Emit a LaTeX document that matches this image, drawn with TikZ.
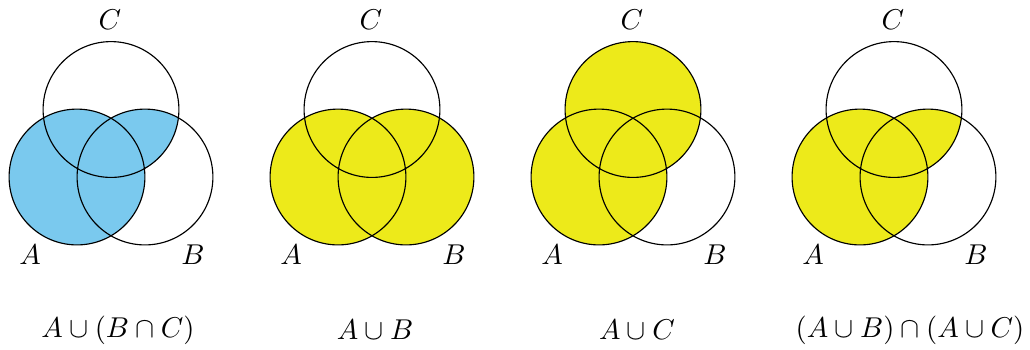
\documentclass[tikz,border=0pt]{standalone}
\definecolor{venblue}{RGB}{122,201,238}
\definecolor{venyellow}{RGB}{237,234,26}
\tikzset{
  setlabel/.style={inner sep=1pt},
  setformula/.style={inner sep=1pt}
}
\newcommand{\rad}{23.7pt}
\begin{document}
\begin{tikzpicture}[x=0.349pt,y=-0.349pt]
            \useasboundingbox (0,0) rectangle (1030,349);
            % A \cup (B \cap C)
            \begin{scope}
                \coordinate (a1) at (77,177);
                \coordinate (b1) at (145,177);
                \coordinate (c1) at (111,109.5);
                \fill[venblue] (a1) circle (\rad);
                \begin{scope}
                    \clip (b1) circle (\rad);
                    \fill[venblue] (c1) circle (\rad);
                \end{scope}
                \draw (a1) circle (\rad);
                \draw (b1) circle (\rad);
                \draw (c1) circle (\rad);
                \node[setlabel] (A1) at (30,255) {$A$};
                \node[setlabel] (B1) at (193,255) {$B$};
                \node[setlabel] (C1) at (110,20) {$C$};
                \node[setformula] (f1) at (118,330) {$A\cup(B\cap C)$};
            \end{scope}
            % A \cup B
            \begin{scope}[shift={(261,0)}]
                \coordinate (a2) at (77,177);
                \coordinate (b2) at (145,177);
                \coordinate (c2) at (111,109.5);
                \fill[venyellow] (a2) circle (\rad);
                \fill[venyellow] (b2) circle (\rad);
                \draw (a2) circle (\rad);
                \draw (b2) circle (\rad);
                \draw (c2) circle (\rad);
                \node[setlabel] (A2) at (30,255) {$A$};
                \node[setlabel] (B2) at (193,255) {$B$};
                \node[setlabel] (C2) at (110,20) {$C$};
                \node[setformula] (f2) at (114,330) {$A\cup B$};
            \end{scope}
            % A \cup C
            \begin{scope}[shift={(522,0)}]
                \coordinate (a3) at (77,177);
                \coordinate (b3) at (145,177);
                \coordinate (c3) at (111,109.5);
                \fill[venyellow] (a3) circle (\rad);
                \fill[venyellow] (c3) circle (\rad);
                \draw (a3) circle (\rad);
                \draw (b3) circle (\rad);
                \draw (c3) circle (\rad);
                \node[setlabel] (A3) at (30,255) {$A$};
                \node[setlabel] (B3) at (193,255) {$B$};
                \node[setlabel] (C3) at (110,20) {$C$};
                \node[setformula] (f3) at (115,330) {$A\cup C$};
            \end{scope}
            % (A \cup B) \cap (A \cup C)
            \begin{scope}[shift={(783,0)}]
                \coordinate (a4) at (77,177);
                \coordinate (b4) at (145,177);
                \coordinate (c4) at (111,109.5);
                \fill[venyellow] (a4) circle (\rad);
                \begin{scope}
                    \clip (b4) circle (\rad);
                    \fill[venyellow] (c4) circle (\rad);
                \end{scope}
                \draw (a4) circle (\rad);
                \draw (b4) circle (\rad);
                \draw (c4) circle (\rad);
                \node[setlabel] (A4) at (30,255) {$A$};
                \node[setlabel] (B4) at (193,255) {$B$};
                \node[setlabel] (C4) at (110,20) {$C$};
                \node[setformula] (f4) at (127,330) {$(A\cup B)\cap(A\cup C)$};
            \end{scope}
        \end{tikzpicture}
\end{document}
